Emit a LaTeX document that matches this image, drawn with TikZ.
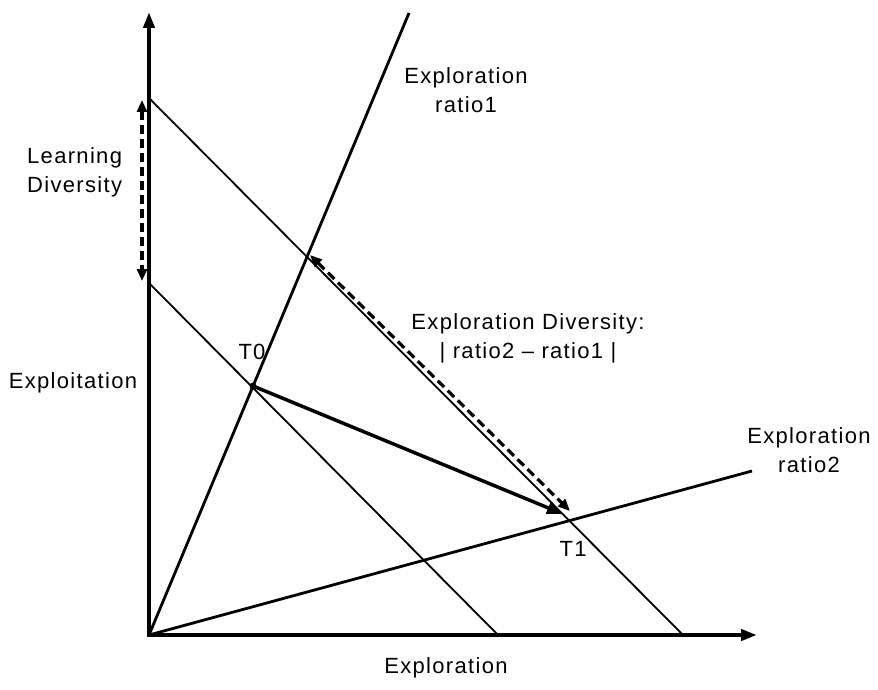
\documentclass[tikz,border=0pt]{standalone}
\usepackage{fontspec}
\setmainfont{Liberation Sans}[LetterSpace=6]
\usetikzlibrary{arrows.meta,calc}
\begin{document}
\begin{tikzpicture}[x=1pt,y=-1pt,
  lbl/.style={font=\fontsize{22}{29}\selectfont, inner sep=0pt, align=center},
  axis/.style={line width=4pt, -{Triangle[length=16pt,width=11pt]}},
  ratio/.style={line width=2.8pt},
  diag/.style={line width=1.8pt},
  dasharrow/.style={line width=3.2pt, dash pattern=on 9pt off 5pt, {Triangle[length=12pt,width=10pt]}-{Triangle[length=12pt,width=10pt]}},
  move/.style={line width=3.5pt, -{Triangle[length=16pt,width=12pt]}}]
\useasboundingbox (0,0) rectangle (878,690);
\coordinate (O) at (149,635);
\coordinate (ytop) at (149,12);
\coordinate (xend) at (757,635);
\coordinate (r1) at (409,13);
\coordinate (r2) at (752,471);
\coordinate (ua) at (149,98);
\coordinate (ub) at (683,635);
\coordinate (la) at (149,283);
\coordinate (lb) at (498,635);
\coordinate (T0) at (253,386);
\coordinate (T1) at (567,516);
\coordinate (P) at (308,257);
% axes
\draw[axis] (O) -- (ytop);
\draw[axis] ($(O)+(-2,0)$) -- (xend);
% ratio lines
\draw[ratio] (O) -- (r1);
\draw[ratio] (O) -- (r2);
% diagonals
\draw[diag] (ua) -- (ub);
\draw[diag] (la) -- (lb);
% arrows
\draw[move] (T0) -- ($(T1)+(-4,-2)$);
\draw[dasharrow] ($(P)+(2,-2)$) -- ($(T1)+(3,-5)$);
\draw[dasharrow] (142,100) -- (142,281);
\fill (T0) circle (3.5pt);
% labels
\node[lbl] (er1) at (466,90) {Exploration\\ratio1};
\node[lbl, align=left, anchor=west] (ld) at (27,172) {Learning\\Diversity};
\node[lbl] (ed) at (528,338) {Exploration Diversity:\\| ratio2 -- ratio1 |};
\node[lbl] (t0) at (252,352) {T0};
\node[lbl] (ex) at (73,383) {Exploitation};
\node[lbl] (er2) at (809,450) {Exploration\\ratio2};
\node[lbl] (t1) at (573,549) {T1};
\node[lbl] (xl) at (446,668) {Exploration};
\end{tikzpicture}
\end{document}
